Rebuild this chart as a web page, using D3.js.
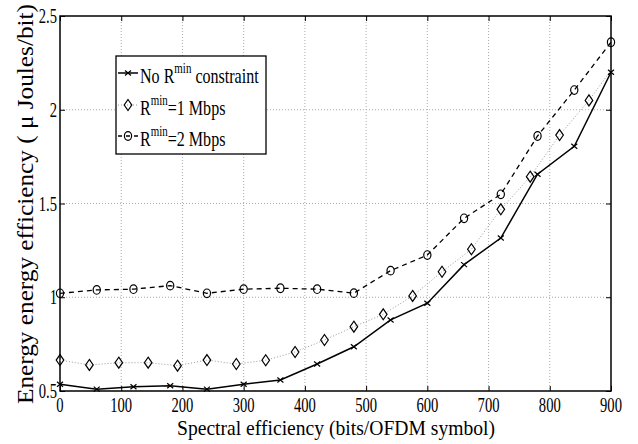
<!DOCTYPE html>
<html>
<head>
<meta charset="utf-8">
<script src="https://cdn.jsdelivr.net/npm/d3@7"></script>
<style>
  body { margin: 0; background: #fff; }
</style>
</head>
<body>
<div id="chart"></div>
<script>
// data
var xTicks = [0, 100, 200, 300, 400, 500, 600, 700, 800, 900];
var yTicks = [0.5, 1, 1.5, 2, 2.5];
var yTickLabels = ["0.5", "1", "1.5", "2", "2.5"];

var noMinX = [0, 60, 120, 180, 240, 300, 360, 420, 480, 540, 600, 660, 720, 780, 840, 900];
var noMinY = [0.536, 0.51, 0.523, 0.528, 0.51, 0.536, 0.559, 0.644, 0.736, 0.879, 0.968, 1.174, 1.316, 1.656, 1.805, 2.2];

var min1X = [0, 48, 96, 144, 192, 240, 288, 336, 384, 432, 480, 528, 576, 624, 672, 720, 768, 816, 864, 900];
var min1Y = [0.665, 0.639, 0.651, 0.651, 0.635, 0.665, 0.644, 0.664, 0.708, 0.772, 0.843, 0.909, 1.007, 1.136, 1.256, 1.469, 1.643, 1.865, 2.05, 2.21];

var min2X = [0, 60, 120, 180, 240, 300, 360, 420, 480, 540, 600, 660, 720, 780, 840, 900];
var min2Y = [1.021, 1.039, 1.043, 1.062, 1.021, 1.043, 1.048, 1.043, 1.022, 1.142, 1.225, 1.421, 1.549, 1.86, 2.105, 2.36];

var W = 638, H = 444;
var pLeft = 60, pRight = 611, pTop = 16, pBottom = 391;
var sx = 0.73; // the figure's text is squeezed horizontally
var serif = "'Liberation Serif', 'Times New Roman', serif";

var svg = d3.select("#chart").append("svg")
	.attr("width", W)
	.attr("height", H)
	.attr("font-family", serif);

var x = d3.scaleLinear().domain([0, 900]).range([pLeft, pRight]);
var y = d3.scaleLinear().domain([0.5, 2.5]).range([pBottom, pTop]);

// grid
svg.selectAll(".gx").data(xTicks.slice(1, -1)).enter().append("line")
	.attr("x1", function(d){ return x(d); })
	.attr("x2", function(d){ return x(d); })
	.attr("y1", pTop).attr("y2", pBottom)
	.style("stroke", "#aaa").style("stroke-width", 1).style("stroke-dasharray", "1,2");
svg.selectAll(".gy").data(yTicks.slice(1, -1)).enter().append("line")
	.attr("x1", pLeft).attr("x2", pRight)
	.attr("y1", function(d){ return y(d); })
	.attr("y2", function(d){ return y(d); })
	.style("stroke", "#aaa").style("stroke-width", 1).style("stroke-dasharray", "1,2");

// inward ticks on all four sides
var axB = d3.axisTop(x).tickValues(xTicks).tickSize(5).tickFormat("");
var axT = d3.axisBottom(x).tickValues(xTicks).tickSize(5).tickFormat("");
var axL = d3.axisRight(y).tickValues(yTicks).tickSize(5).tickFormat("");
var axR = d3.axisLeft(y).tickValues(yTicks).tickSize(5).tickFormat("");
[[axB, "translate(0," + pBottom + ")"], [axT, "translate(0," + pTop + ")"],
 [axL, "translate(" + pLeft + ",0)"], [axR, "translate(" + pRight + ",0)"]].forEach(function(a){
	var g = svg.append("g").attr("transform", a[1]).call(a[0]);
	g.select(".domain").remove();
	g.selectAll("line").style("stroke", "#000").style("stroke-width", 1);
});

// frame
svg.append("rect")
	.attr("x", pLeft).attr("y", pTop)
	.attr("width", pRight - pLeft).attr("height", pBottom - pTop)
	.style("fill", "none").style("stroke", "#000").style("stroke-width", 1.5);

// tick labels
function squeezed(px, py, anchor, size, str) {
	return svg.append("text")
		.attr("transform", "translate(" + px + "," + py + ") scale(" + sx + ",1)")
		.attr("text-anchor", anchor)
		.style("font-family", serif)
		.style("font-size", size + "px")
		.text(str);
}
xTicks.forEach(function(d){ squeezed(x(d), 412, "middle", 20, d); });
yTicks.forEach(function(d, i){ squeezed(57, y(d) + 7, "end", 20, yTickLabels[i]); });

// axis titles
svg.append("text")
	.attr("x", 177).attr("y", 435)
	.attr("textLength", 318).attr("lengthAdjust", "spacingAndGlyphs")
	.style("font-family", serif)
	.style("font-size", "22px")
	.text("Spectral efficiency (bits/OFDM symbol)");
svg.append("text")
	.attr("transform", "translate(33,404) rotate(-90)")
	.attr("textLength", 400).attr("lengthAdjust", "spacingAndGlyphs")
	.style("font-family", serif)
	.style("font-size", "23px")
	.text("Energy energy efficiency ( \u03bc Joules/bit)");

// markers
function xMark(g, px, py) {
	g.append("path")
		.attr("d", "M" + (px - 3) + "," + (py - 2.5) + "L" + (px + 3) + "," + (py + 2.5) +
			"M" + (px - 3) + "," + (py + 2.5) + "L" + (px + 3) + "," + (py - 2.5))
		.style("stroke", "#000").style("stroke-width", 1.2).style("fill", "none");
}
function diamond(g, px, py) {
	g.append("path")
		.attr("d", "M" + px + "," + (py - 5.5) + "L" + (px + 3.8) + "," + py + "L" + px + "," + (py + 5.5) + "L" + (px - 3.8) + "," + py + "Z")
		.style("stroke", "#000").style("stroke-width", 1.2).style("fill", "none");
}
function ring(g, px, py) {
	g.append("ellipse")
		.attr("cx", px).attr("cy", py).attr("rx", 3.6).attr("ry", 4.3)
		.style("stroke", "#000").style("stroke-width", 1.2).style("fill", "none");
}

var line = d3.line().x(function(d){ return x(d[0]); }).y(function(d){ return y(d[1]); });
var pts0 = d3.zip(noMinX, noMinY);
var pts1 = d3.zip(min1X, min1Y);
var pts2 = d3.zip(min2X, min2Y);

svg.append("path").datum(pts1).attr("d", line)
	.style("fill", "none").style("stroke", "#999").style("stroke-width", 1).style("stroke-dasharray", "1,2");
svg.append("path").datum(pts2).attr("d", line)
	.style("fill", "none").style("stroke", "#000").style("stroke-width", 1.3).style("stroke-dasharray", "5,4");
svg.append("path").datum(pts0).attr("d", line)
	.style("fill", "none").style("stroke", "#000").style("stroke-width", 1.5);

var gm = svg.append("g");
pts0.forEach(function(p){ xMark(gm, x(p[0]), y(p[1])); });
// the diamond series has no marker at its 900 end point
pts1.slice(0, -1).forEach(function(p){ diamond(gm, x(p[0]), y(p[1])); });
pts2.forEach(function(p){ ring(gm, x(p[0]), y(p[1])); });

// legend
var lg = svg.append("g");
lg.append("rect")
	.attr("x", 116).attr("y", 56).attr("width", 150).attr("height", 98)
	.style("fill", "#fff").style("stroke", "#000").style("stroke-width", 1.3);

var rows = [
	{base: 83, pre: "No R", post: " constraint"},
	{base: 115, pre: "R", post: "=1 Mbps"},
	{base: 146, pre: "R", post: "=2 Mbps"}
];
rows.forEach(function(r, i){
	var ly = r.base - 10;
	var ln = lg.append("line").attr("x1", 118).attr("x2", 138).attr("y1", ly).attr("y2", ly);
	if (i == 0) {
		ln.style("stroke", "#000").style("stroke-width", 1.5);
		xMark(lg, 128, ly);
	} else if (i == 1) {
		ln.style("stroke", "#999").style("stroke-width", 1).style("stroke-dasharray", "1,2");
		diamond(lg, 128, ly);
	} else {
		ln.style("stroke", "#000").style("stroke-width", 1.3).style("stroke-dasharray", "4,4");
		ring(lg, 128, ly);
	}
	var t = lg.append("text")
		.attr("transform", "translate(140," + r.base + ") scale(" + sx + ",1)")
		.style("font-family", serif)
		.style("font-size", "22px");
	t.append("tspan").text(r.pre);
	t.append("tspan").attr("dy", -10).style("font-size", "15px").text("min");
	t.append("tspan").attr("dy", 10).text(r.post);
});
</script>
</body>
</html>
